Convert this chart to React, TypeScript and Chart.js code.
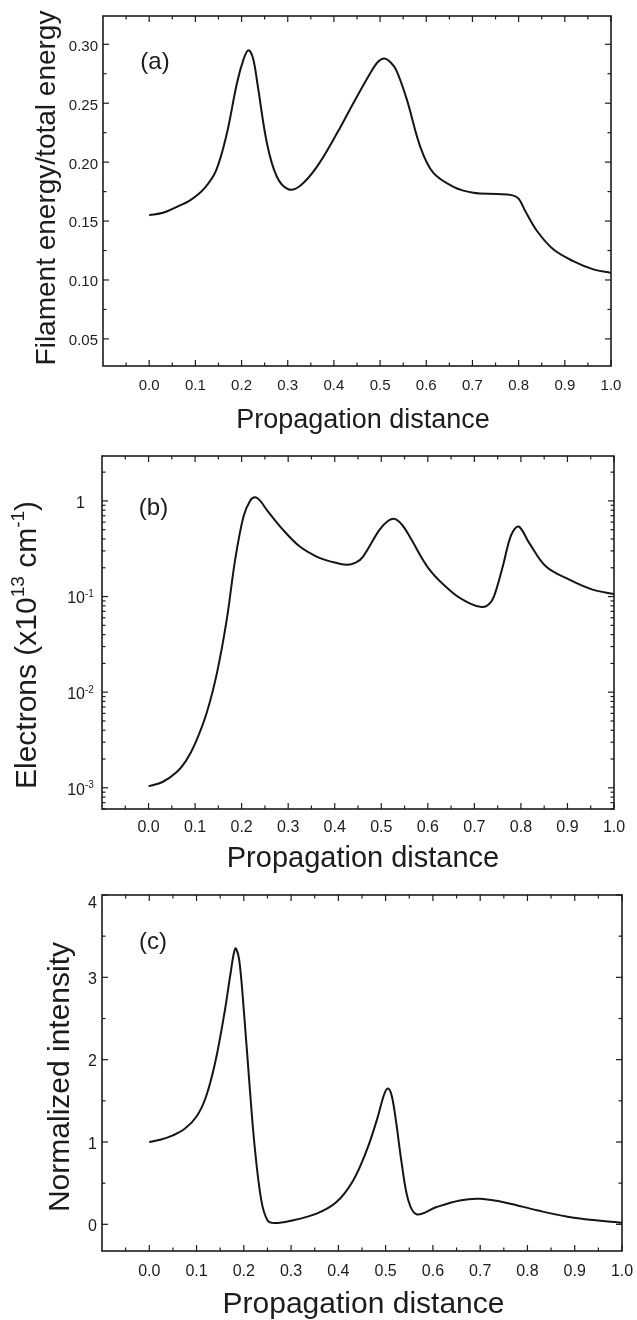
import React, { useEffect, useRef } from 'react';
import { Chart, registerables } from 'chart.js';

Chart.register(...registerables);

const FONT = '"Liberation Sans", Arial, Helvetica, sans-serif';
const INK = '#1c1c1c';

// ---- shared x axis ----
const xMajor = [0, 0.1, 0.2, 0.3, 0.4, 0.5, 0.6, 0.7, 0.8, 0.9, 1.0];
const xTickLabels = ['0.0', '0.1', '0.2', '0.3', '0.4', '0.5', '0.6', '0.7', '0.8', '0.9', '1.0'];
const xMinor = [-0.05, 0.05, 0.15, 0.25, 0.35, 0.45, 0.55, 0.65, 0.75, 0.85, 0.95];
const xTitleText = 'Propagation distance';

// ---- panel (a): filament energy / total energy ----
const aX = [0.0, 0.03, 0.06, 0.09, 0.12, 0.145, 0.168, 0.19, 0.205, 0.215, 0.225, 0.235, 0.255, 0.276, 0.301, 0.327, 0.363, 0.406, 0.442, 0.478, 0.495, 0.509, 0.522, 0.535, 0.558, 0.587, 0.615, 0.659, 0.702, 0.753, 0.785, 0.8, 0.815, 0.839, 0.875, 0.918, 0.962, 1.0];
const aY = [0.155, 0.157, 0.162, 0.168, 0.178, 0.193, 0.224, 0.267, 0.288, 0.295, 0.288, 0.265, 0.216, 0.188, 0.177, 0.18, 0.196, 0.224, 0.25, 0.275, 0.285, 0.288, 0.285, 0.278, 0.253, 0.213, 0.191, 0.179, 0.174, 0.173, 0.172, 0.169, 0.158, 0.142, 0.126, 0.116, 0.109, 0.106];
const aYMajor = [0.05, 0.1, 0.15, 0.2, 0.25, 0.3];
const aYLabels = ['0.05', '0.10', '0.15', '0.20', '0.25', '0.30'];
const aYMinor = [0.075, 0.125, 0.175, 0.225, 0.275];

// ---- panel (b): electrons (log) ----
const bX = [0.0, 0.03, 0.06, 0.08, 0.1, 0.125, 0.147, 0.168, 0.186, 0.204, 0.218, 0.229, 0.24, 0.254, 0.289, 0.325, 0.361, 0.392, 0.425, 0.445, 0.461, 0.496, 0.515, 0.529, 0.545, 0.561, 0.604, 0.654, 0.69, 0.716, 0.73, 0.742, 0.761, 0.779, 0.795, 0.818, 0.854, 0.904, 0.954, 1.0];
const bY = [0.00104, 0.00115, 0.00145, 0.0019, 0.0029, 0.0061, 0.0159, 0.0573, 0.242, 0.686, 1.0, 1.09, 1.0, 0.805, 0.498, 0.333, 0.262, 0.232, 0.215, 0.226, 0.262, 0.498, 0.62, 0.649, 0.56, 0.424, 0.19, 0.109, 0.085, 0.0777, 0.082, 0.1, 0.206, 0.44, 0.54, 0.362, 0.206, 0.15, 0.118, 0.106];
const bYMajor = [0.001, 0.01, 0.1, 1];
const bYLabelBase = ['10', '10', '10', '1'];
const bYLabelExp = ['-3', '-2', '-1', ''];
const bYMinorMult = [2, 3, 4, 5, 6, 7, 8, 9];
const bYDecades = [0.0001, 0.001, 0.01, 0.1, 1];

// ---- panel (c): normalized intensity ----
const cX = [0.0, 0.025, 0.05, 0.075, 0.1, 0.12, 0.14, 0.16, 0.172, 0.182, 0.19, 0.2, 0.212, 0.223, 0.237, 0.25, 0.265, 0.297, 0.354, 0.396, 0.431, 0.46, 0.481, 0.497, 0.505, 0.513, 0.522, 0.534, 0.548, 0.566, 0.608, 0.657, 0.7, 0.757, 0.82, 0.898, 1.0];
const cY = [1.0, 1.03, 1.08, 1.16, 1.31, 1.55, 1.98, 2.6, 3.05, 3.35, 3.22, 2.6, 1.7, 0.94, 0.29, 0.05, 0.015, 0.04, 0.13, 0.27, 0.53, 0.9, 1.26, 1.58, 1.65, 1.56, 1.25, 0.74, 0.29, 0.12, 0.21, 0.29, 0.31, 0.26, 0.17, 0.08, 0.02];
const cYMajor = [0, 1, 2, 3, 4];
const cYLabels = ['0', '1', '2', '3', '4'];
const cYMinor = [0.5, 1.5, 2.5, 3.5];

type Seg = { t: string; sup?: boolean };

type Spec = {
  top: number;
  height: number;
  pad: { left: number; top: number; right: number; bottom: number };
  yType: 'linear' | 'logarithmic';
  yMin: number;
  yMax: number;
  xs: number[];
  ys: number[];
  yMajor: number[];
  yMinor: number[];
  yLabels: Seg[][];
  yLabelAlign: 'right' | 'center';
  yLabelX: number;
  yLabelSize: number;
  xLabelY: number;
  xLabelSize: number;
  xTitleY: number;
  xTitleX: number;
  xTitleSize: number;
  yTitle: Seg[];
  yTitleX: number;
  yTitleY: number;
  yTitleSize: number;
  tag: string;
  tagX: number;
  tagY: number;
  tagSize: number;
};

const bMinor: number[] = [];
bYDecades.forEach((d) => bYMinorMult.forEach((m) => bMinor.push(d * m)));

const specs: Spec[] = [
  {
    top: 0, height: 445, pad: { left: 103, top: 16, right: 26, bottom: 79 },
    yType: 'linear', yMin: 0.027, yMax: 0.324, xs: aX, ys: aY,
    yMajor: aYMajor, yMinor: aYMinor,
    yLabels: aYLabels.map((t) => [{ t }]),
    yLabelAlign: 'right', yLabelX: 98, yLabelSize: 15,
    xLabelY: 386, xLabelSize: 15,
    xTitleY: 428, xTitleX: 363, xTitleSize: 27,
    yTitle: [{ t: 'Filament energy/total energy' }], yTitleX: 55, yTitleY: 188, yTitleSize: 28,
    tag: '(a)', tagX: 155, tagY: 62, tagSize: 24,
  },
  {
    top: 445, height: 440, pad: { left: 102, top: 11, right: 23, bottom: 76 },
    yType: 'logarithmic', yMin: 0.000608, yMax: 2.95, xs: bX, ys: bY,
    yMajor: bYMajor, yMinor: bMinor,
    yLabels: bYLabelBase.map((t, i) => (bYLabelExp[i] ? [{ t }, { t: bYLabelExp[i], sup: true }] : [{ t }])),
    yLabelAlign: 'center', yLabelX: 80.5, yLabelSize: 16,
    xLabelY: 828, xLabelSize: 16,
    xTitleY: 867, xTitleX: 363, xTitleSize: 29,
    yTitle: [{ t: 'Electrons (x10' }, { t: '13', sup: true }, { t: ' cm' }, { t: '-1', sup: true }, { t: ')' }],
    yTitleX: 36, yTitleY: 645, yTitleSize: 30,
    tag: '(b)', tagX: 153.5, tagY: 508, tagSize: 24,
  },
  {
    top: 885, height: 435, pad: { left: 102, top: 10, right: 15, bottom: 69 },
    yType: 'linear', yMin: -0.324, yMax: 4, xs: cX, ys: cY,
    yMajor: cYMajor, yMinor: cYMinor,
    yLabels: cYLabels.map((t) => [{ t }]),
    yLabelAlign: 'right', yLabelX: 97, yLabelSize: 16,
    xLabelY: 1272, xLabelSize: 16,
    xTitleY: 1313, xTitleX: 363.5, xTitleSize: 30,
    yTitle: [{ t: 'Normalized intensity' }], yTitleX: 69, yTitleY: 1077, yTitleSize: 30,
    tag: '(c)', tagX: 153, tagY: 942, tagSize: 24,
  },
];

function segWidth(ctx: CanvasRenderingContext2D, segs: Seg[], size: number) {
  let w = 0;
  for (const s of segs) {
    ctx.font = `${s.sup ? Math.round(size * 0.62) : size}px ${FONT}`;
    w += ctx.measureText(s.t).width;
  }
  return w;
}

function drawSegs(ctx: CanvasRenderingContext2D, segs: Seg[], size: number, x: number, y: number) {
  let cx = x;
  ctx.textAlign = 'left';
  ctx.textBaseline = 'alphabetic';
  for (const s of segs) {
    const fs = s.sup ? Math.round(size * 0.62) : size;
    ctx.font = `${fs}px ${FONT}`;
    ctx.fillText(s.t, cx, s.sup ? y - size * 0.4 : y);
    cx += ctx.measureText(s.t).width;
  }
}

function makeFrame(spec: Spec) {
  return {
    id: 'frame',
    afterDraw(chart: any) {
      const ctx: CanvasRenderingContext2D = chart.ctx;
      const { left, right, top, bottom } = chart.chartArea;
      const xs = chart.scales.x;
      const ys = chart.scales.y;
      const off = spec.top;
      ctx.save();
      ctx.fillStyle = INK;
      ctx.strokeStyle = INK;

      ctx.lineWidth = 1.2;
      const line = (x1: number, y1: number, x2: number, y2: number) => {
        ctx.beginPath();
        ctx.moveTo(x1, y1);
        ctx.lineTo(x2, y2);
        ctx.stroke();
      };
      const xTick = (v: number, len: number) => {
        const p = xs.getPixelForValue(v);
        if (p < left - 0.5 || p > right + 0.5) return;
        line(p, bottom, p, bottom - len);
        line(p, top, p, top + len);
      };
      const yTick = (v: number, len: number) => {
        const p = ys.getPixelForValue(v);
        if (p < top - 0.5 || p > bottom + 0.5) return;
        line(left, p, left + len, p);
        line(right, p, right - len, p);
      };
      xMajor.forEach((v) => xTick(v, 6));
      xMinor.forEach((v) => xTick(v, 3.5));
      spec.yMajor.forEach((v) => yTick(v, 6));
      spec.yMinor.forEach((v) => yTick(v, 3.5));

      ctx.lineWidth = 1.6;
      ctx.strokeRect(left, top, right - left, bottom - top);

      ctx.font = `${spec.xLabelSize}px ${FONT}`;
      ctx.textAlign = 'center';
      ctx.textBaseline = 'middle';
      xMajor.forEach((v, i) => {
        ctx.fillText(xTickLabels[i], xs.getPixelForValue(v), spec.xLabelY - off);
      });

      spec.yMajor.forEach((v, i) => {
        const segs = spec.yLabels[i];
        let py = ys.getPixelForValue(v) + 1;
        py = Math.max(py, top + 7);
        const w = segWidth(ctx, segs, spec.yLabelSize);
        const x0 = spec.yLabelAlign === 'right' ? spec.yLabelX - w : spec.yLabelX - w / 2;
        drawSegs(ctx, segs, spec.yLabelSize, x0, py + spec.yLabelSize * 0.36);
      });

      ctx.font = `${spec.xTitleSize}px ${FONT}`;
      ctx.textAlign = 'center';
      ctx.textBaseline = 'alphabetic';
      ctx.fillText(xTitleText, spec.xTitleX, spec.xTitleY - off);

      ctx.save();
      ctx.translate(spec.yTitleX, spec.yTitleY - off);
      ctx.rotate(-Math.PI / 2);
      const tw = segWidth(ctx, spec.yTitle, spec.yTitleSize);
      drawSegs(ctx, spec.yTitle, spec.yTitleSize, -tw / 2, 0);
      ctx.restore();

      ctx.font = `${spec.tagSize}px ${FONT}`;
      ctx.textAlign = 'center';
      ctx.textBaseline = 'middle';
      ctx.fillText(spec.tag, spec.tagX, spec.tagY - off);

      ctx.restore();
    },
  };
}

function Panel({ spec }: { spec: Spec }) {
  const ref = useRef<HTMLCanvasElement>(null);
  useEffect(() => {
    if (!ref.current) return;
    const data = spec.xs.map((x, i) => ({ x, y: spec.ys[i] }));
    const chart = new Chart(ref.current, {
      type: 'line',
      data: {
        datasets: [
          {
            data,
            borderColor: '#151515',
            borderWidth: 2,
            pointRadius: 0,
            fill: false,
            tension: 0.35,
          },
        ],
      },
      options: {
        responsive: false,
        animation: false,
        devicePixelRatio: 1,
        layout: { padding: spec.pad },
        plugins: { legend: { display: false }, tooltip: { enabled: false } },
        events: [],
        scales: {
          x: { type: 'linear', min: -0.1, max: 1.0, display: false },
          y: { type: spec.yType, min: spec.yMin, max: spec.yMax, display: false },
        },
      } as any,
      plugins: [makeFrame(spec)],
    });
    return () => chart.destroy();
  }, [spec]);
  return (
    <canvas
      ref={ref}
      width={637}
      height={spec.height}
      style={{ position: 'absolute', left: 0, top: spec.top, width: 637, height: spec.height }}
    />
  );
}

export default function App() {
  return (
    <div style={{ position: 'absolute', left: 0, top: 0, width: 637, height: 1320, background: '#fff', overflow: 'hidden' }}>
      {specs.map((s, i) => (
        <Panel key={i} spec={s} />
      ))}
    </div>
  );
}
